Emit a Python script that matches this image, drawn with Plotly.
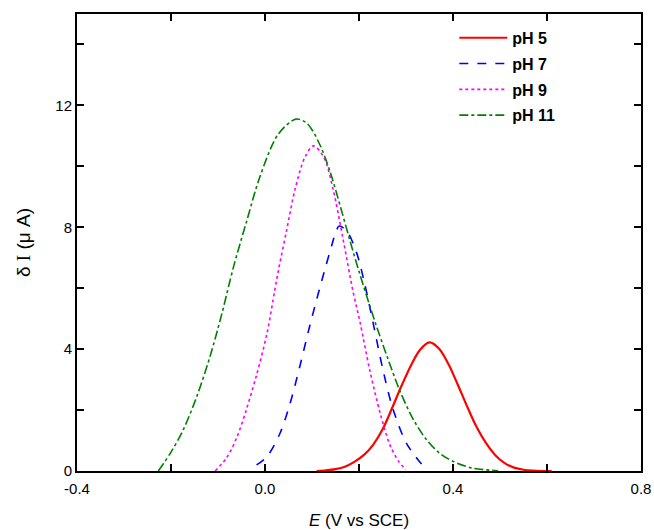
import plotly.graph_objects as go

# pH 5 (red solid)
x_ph5 = [0.11, 0.13, 0.15, 0.17, 0.19, 0.21, 0.23, 0.25, 0.27, 0.29, 0.31, 0.33, 0.35, 0.37, 0.39, 0.41, 0.43, 0.45, 0.47, 0.49, 0.51, 0.53, 0.55, 0.57, 0.59, 0.61]
y_ph5 = [0.00, 0.02, 0.06, 0.14, 0.30, 0.52, 0.86, 1.36, 2.05, 2.78, 3.45, 3.98, 4.22, 4.02, 3.52, 2.84, 2.12, 1.45, 0.92, 0.52, 0.26, 0.11, 0.04, 0.01, 0.00, 0.00]

# pH 7 (blue dash)
x_ph7 = [-0.018, 0.004, 0.032, 0.053, 0.074, 0.095, 0.11, 0.128, 0.142, 0.15, 0.158, 0.175, 0.195, 0.212, 0.23, 0.252, 0.273, 0.301, 0.333]
y_ph7 = [0.20, 0.47, 1.24, 2.20, 3.43, 4.75, 5.63, 6.65, 7.40, 7.82, 8.04, 7.85, 7.16, 6.15, 4.86, 3.25, 2.00, 0.91, 0.23]

# pH 9 (magenta dot)
x_ph9 = [-0.106, -0.081, -0.06, -0.039, -0.018, 0.004, 0.021, 0.03, 0.046, 0.064, 0.085, 0.103, 0.125, 0.145, 0.165, 0.188, 0.202, 0.223, 0.245, 0.266, 0.285, 0.30]
y_ph9 = [0.00, 0.45, 1.10, 2.05, 3.15, 4.50, 5.95, 6.70, 7.90, 9.25, 10.30, 10.67, 10.30, 9.24, 7.70, 5.84, 4.90, 3.30, 1.90, 0.85, 0.30, 0.05]

# pH 11 (green dash-dot)
x_ph11 = [-0.227, -0.2, -0.174, -0.145, -0.117, -0.092, -0.067, -0.039, -0.011, 0.028, 0.066, 0.09, 0.117, 0.14, 0.16, 0.18, 0.202, 0.234, 0.26, 0.287, 0.316, 0.344, 0.372, 0.401, 0.443, 0.496]
y_ph11 = [0.00, 0.62, 1.35, 2.45, 3.76, 5.15, 6.70, 8.20, 9.65, 11.05, 11.55, 11.40, 10.70, 9.75, 8.70, 7.60, 6.45, 4.90, 3.75, 2.63, 1.68, 1.02, 0.58, 0.31, 0.09, 0.01]

series = [
    ("pH 5", x_ph5, y_ph5, "#ff0000", "solid"),
    ("pH 7", x_ph7, y_ph7, "#0000ff", "dash"),
    ("pH 9", x_ph9, y_ph9, "#ff00ff", "dot"),
    ("pH 11", x_ph11, y_ph11, "#008000", "dashdot"),
]

fig = go.Figure()
for name, xs, ys, col, dash in series:
    fig.add_trace(go.Scatter(
        x=xs, y=ys, mode="lines", name=name, legendgroup=name,
        line=dict(color=col, dash=dash, width=2.2 if dash == "solid" else 1.6,
                  shape="spline", smoothing=0.9),
    ))

axis_common = dict(
    showline=True, linecolor="black", linewidth=2, mirror="allticks",
    ticks="inside", ticklen=7, tickwidth=1.5, tickcolor="black",
    showgrid=False, zeroline=False, automargin=False,
    tickfont=dict(family="Liberation Sans, Arial", size=15, color="black"),
)

fig.update_xaxes(
    range=[-0.4, 0.8], tickvals=[-0.4, 0.0, 0.4, 0.8], ticktext=["-0.4", "0.0", "0.4", "0.8"],
    minor=dict(tickvals=[-0.2, 0.2, 0.6], ticks="inside", ticklen=7, tickwidth=1.5, tickcolor="black"),
    ticklabelstandoff=3,
    title=dict(text="<i>E</i> (V vs SCE)", font=dict(family="Liberation Sans, Arial", size=17, color="black"), standoff=21),
    **axis_common,
)
fig.update_yaxes(
    range=[0, 15], tickvals=[0, 4, 8, 12],
    minor=dict(tickvals=[2, 6, 10, 14], ticks="inside", ticklen=7, tickwidth=1.5, tickcolor="black"),
    title=dict(text="δ <span style='font-family:Liberation Serif'>I</span> (μ A)",
               font=dict(family="Liberation Sans, Arial", size=19, color="black"), standoff=20),
    **axis_common,
)

fig.update_layout(
    width=654, height=530,
    margin=dict(l=77, r=13, t=14, b=59),
    plot_bgcolor="white", paper_bgcolor="white",
    legend=dict(x=0.669, y=0.985, xanchor="left", yanchor="top",
                font=dict(family="Liberation Sans, Arial", size=16, color="black", weight="bold"),
                bgcolor="rgba(0,0,0,0)", borderwidth=0, tracegroupgap=2,
                itemwidth=48),
)

fig.write_html("out.html")
